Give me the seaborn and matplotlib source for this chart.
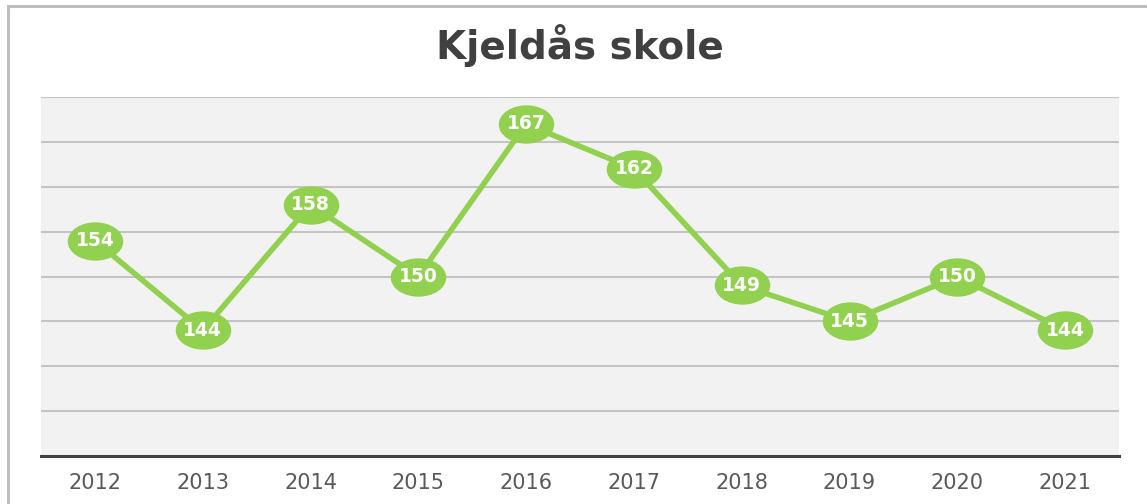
import matplotlib
matplotlib.use("Agg")
import matplotlib.pyplot as plt
import seaborn as sns
import pandas as pd
from matplotlib.path import Path
from matplotlib.transforms import Affine2D
from matplotlib.patches import Rectangle

# Data
years = ["2012", "2013", "2014", "2015", "2016", "2017", "2018", "2019", "2020", "2021"]
students = [154, 144, 158, 150, 167, 162, 149, 145, 150, 144]

df = pd.DataFrame({"pos": range(len(years)), "year": years, "students": students})

green = "#92D050"

sns.set_style("white")
plt.rcParams['font.family'] = ['DejaVu Sans']

fig = plt.figure(figsize=(11.47, 5.04), dpi=100)
ax = fig.add_axes([41 / 1147, 1 - 456 / 504, (1119 - 41) / 1147, (456 - 97) / 504])
ax.set_facecolor("#f2f2f2")

# elliptical marker (wider than tall)
ellipse = Path.unit_circle().transformed(Affine2D().scale(1.45, 1.0))

sns.lineplot(data=df, x="pos", y="students", ax=ax, color=green, linewidth=4,
             marker=ellipse, markersize=40, markeredgewidth=0, markerfacecolor=green,
             zorder=3)

for x, y in zip(df["pos"], df["students"]):
    ax.text(x, y, str(y), ha="center", va="center", color="white",
            fontsize=13.5, fontweight="bold", zorder=4)

ax.set_xlim(-0.5, len(years) - 0.5)
ax.set_ylim(130, 170)
ax.set_yticks(range(135, 171, 5))
ax.yaxis.grid(True, color="#c4c4c4", linewidth=1.5)
ax.set_axisbelow(True)
ax.tick_params(axis="y", left=False, labelleft=False)
ax.set_xticks(df["pos"])
ax.set_xticklabels(years)
ax.tick_params(axis="x", bottom=False, labelsize=15, labelcolor="#595959", pad=9)
ax.set_xlabel("")
ax.set_ylabel("")
for side in ["top", "right", "left"]:
    ax.spines[side].set_visible(False)
ax.spines["bottom"].set_color("#404040")
ax.spines["bottom"].set_linewidth(2.2)

fig.text(580 / 1147, 1 - 46 / 504, "Kjeldås skole", ha="center", va="center",
         fontsize=28, fontweight="bold", color="#404040")

# outer chart frame (left and top edges visible)
fig.patches.append(Rectangle((8 / 1147, -0.1), 1.2, 1 - 6 / 504 + 0.1,
                             transform=fig.transFigure, fill=False,
                             edgecolor="#bfbfbf", linewidth=2.2))

fig.savefig("out.png", dpi=100)
